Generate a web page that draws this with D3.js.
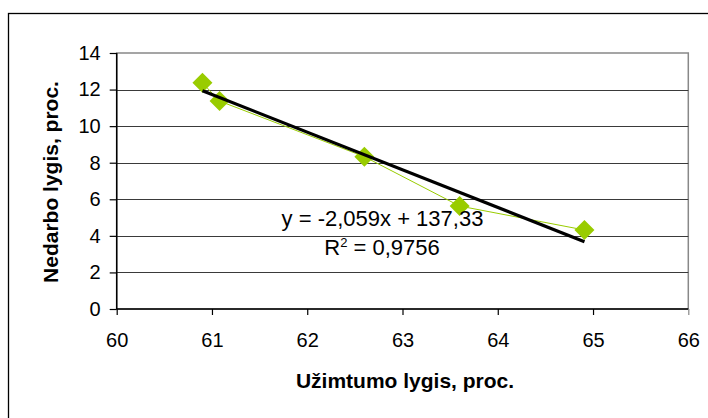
<!DOCTYPE html>
<html><head><meta charset="utf-8">
<script src="https://cdn.jsdelivr.net/npm/d3@7"></script>
<style>body{margin:0;background:#fff}svg{display:block;font-family:"Liberation Sans",Arial,sans-serif}</style>
</head><body>
<svg id="c" width="708" height="418"></svg>
<script>
const xValues = [60.9, 61.08, 62.6, 63.6, 64.91];
const yValues = [12.37, 11.37, 8.33, 5.63, 4.32];
const trendSlope = -2.059;
const trendIntercept = 137.33;
const xTicks = [60, 61, 62, 63, 64, 65, 66];
const yTicks = [0, 2, 4, 6, 8, 10, 12, 14];
const eqLabel = "y = -2,059x + 137,33";
const r2Value = "0,9756";
const xTitle = "Užimtumo lygis, proc.";
const yTitle = "Nedarbo lygis, proc.";

const svg = d3.select("#c");
const L = 116.7, R = 688.3, T = 53, B = 309;
const x = d3.scaleLinear().domain([60, 66]).range([L, R]);
const y = d3.scaleLinear().domain([0, 14]).range([B, T]);
const FONT = '"Liberation Sans",Arial,sans-serif';

// outer chart frame
svg.append("rect").attr("x", 8.5).attr("y", 13.5).attr("width", 720).attr("height", 430)
  .attr("fill", "none").attr("stroke", "#000").attr("stroke-width", 1.3);

// plot border (gray)
svg.append("rect").attr("x", L).attr("y", T).attr("width", R - L).attr("height", B - T)
  .attr("fill", "none").attr("stroke", "#888").attr("stroke-width", 1.5);

// gridlines
svg.append("g").selectAll("line").data(yTicks.filter(d => d > 0 && d < 14)).join("line")
  .attr("x1", L).attr("x2", R).attr("y1", d => Math.round(y(d)) + 0.5).attr("y2", d => Math.round(y(d)) + 0.5)
  .attr("stroke", "#3a3a3a").attr("stroke-width", 1);

// axes
const yAxis = svg.append("g").attr("transform", `translate(${L},0)`)
  .call(d3.axisLeft(y).tickValues(yTicks).tickSize(7).tickPadding(9).tickFormat(d3.format("d")));
const xAxis = svg.append("g").attr("transform", `translate(0,${B})`)
  .call(d3.axisBottom(x).tickValues(xTicks).tickSize(6).tickPadding(18).tickFormat(d3.format("d")));
[xAxis, yAxis].forEach(g => {
  g.attr("font-size", 20).attr("font-family", FONT);
  g.select(".domain").attr("stroke", "#000").attr("stroke-width", 1.5);
  g.selectAll(".tick line").attr("stroke", "#000").attr("stroke-width", 1.2);
  g.selectAll(".tick text").attr("font-size", 20).attr("fill", "#000").attr("font-family", FONT);
});
xAxis.select(".domain").attr("d", `M${L},0H${R}`);
yAxis.select(".domain").attr("d", `M0,${T}V${B}`);
xAxis.selectAll(".tick").filter(d => d === 66).select("line").attr("stroke", "#888");

// data line
const pts = xValues.map((v, i) => [v, yValues[i]]);
svg.append("path").datum(pts)
  .attr("d", d3.line().x(d => x(d[0])).y(d => y(d[1])))
  .attr("fill", "none").attr("stroke", "#99cc00").attr("stroke-width", 1);

// markers
svg.append("g").selectAll("path").data(pts).join("path")
  .attr("transform", d => `translate(${x(d[0])},${y(d[1])})`)
  .attr("d", "M0,-10L10,0L0,10L-10,0Z").attr("fill", "#99cc00");

// trend line
const xmin = d3.min(xValues), xmax = d3.max(xValues);
svg.append("line")
  .attr("x1", x(xmin)).attr("y1", y(trendSlope * xmin + trendIntercept))
  .attr("x2", x(xmax)).attr("y2", y(trendSlope * xmax + trendIntercept))
  .attr("stroke", "#000").attr("stroke-width", 3.2);

// equation labels
svg.append("text").attr("x", 382.5).attr("y", 226).attr("text-anchor", "middle")
  .attr("font-size", 22).text(eqLabel);
const r2 = svg.append("text").attr("x", 382).attr("y", 255).attr("text-anchor", "middle").attr("font-size", 22);
r2.append("tspan").text("R");
r2.append("tspan").attr("font-size", 13).attr("dy", -8).text("2");
r2.append("tspan").attr("dy", 8).text(" = " + r2Value);

// axis titles
svg.append("text").attr("x", 405).attr("y", 388).attr("text-anchor", "middle")
  .attr("font-size", 21).attr("font-weight", "bold").text(xTitle);
svg.append("text").attr("transform", "translate(58,182) rotate(-90)").attr("text-anchor", "middle")
  .attr("font-size", 21).attr("font-weight", "bold").text(yTitle);
</script>
</body></html>
